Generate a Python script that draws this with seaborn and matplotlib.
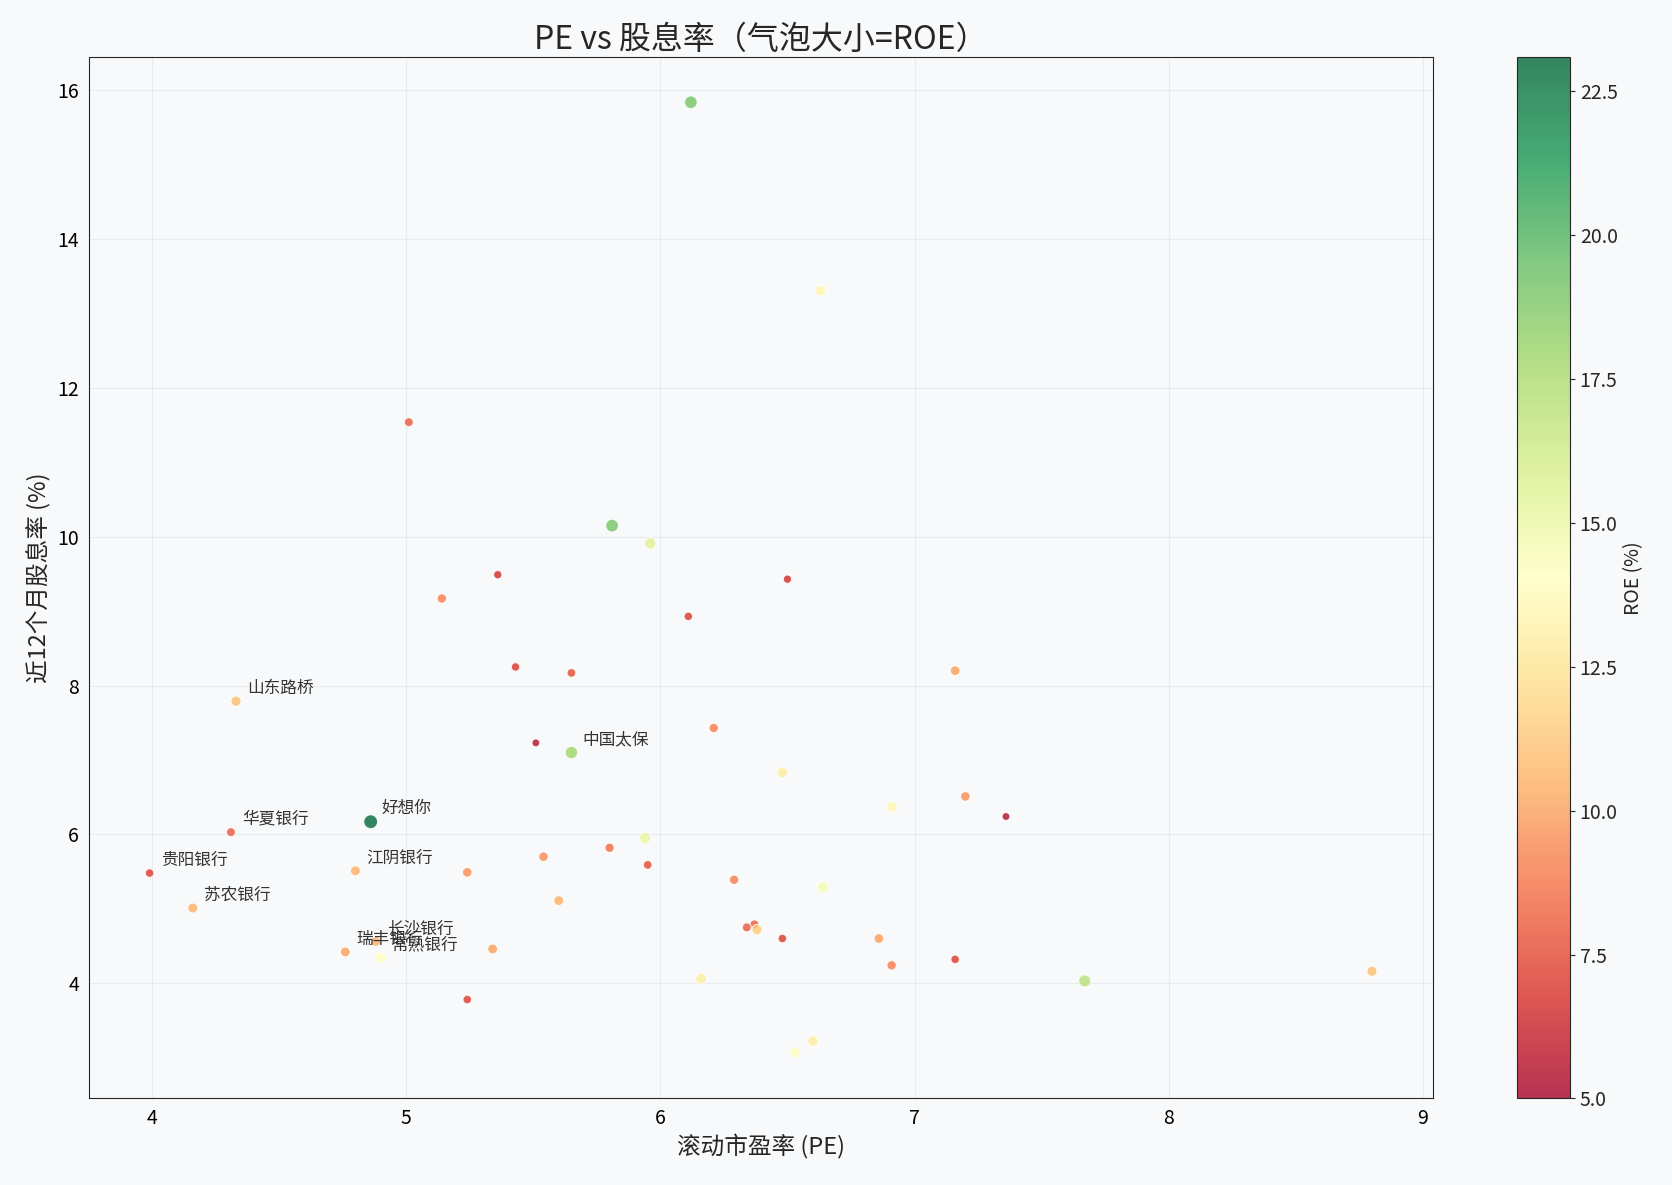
import matplotlib
matplotlib.use("Agg")
import matplotlib.pyplot as plt
import seaborn as sns
import pandas as pd
from matplotlib.colors import Normalize
from matplotlib.cm import ScalarMappable

pe = [6.12,6.63,5.01,5.81,5.96,5.36,6.50,5.14,6.11,5.43,5.65,7.16,4.33,6.21,5.51,5.65,6.48,7.20,6.91,7.36,
      4.86,4.31,5.94,5.80,5.54,5.95,3.99,4.80,5.24,6.29,6.64,5.60,4.16,6.37,6.34,6.38,6.48,6.86,4.88,7.16,
      4.76,4.90,5.34,6.91,8.80,7.67,6.16,5.24,6.60,6.53]
dy = [15.84,13.31,11.54,10.15,9.91,9.49,9.43,9.17,8.93,8.25,8.17,8.20,7.79,7.43,7.23,7.10,6.83,6.51,6.37,6.24,
      6.17,6.03,5.95,5.82,5.70,5.59,5.48,5.51,5.49,5.39,5.29,5.11,5.01,4.79,4.75,4.72,4.60,4.60,4.56,4.32,
      4.42,4.34,4.46,4.24,4.16,4.03,4.06,3.78,3.22,3.07]
roe = [19,13.5,8,19,15.5,6.5,6.5,9,7,7,7.5,10,11,9,5.5,18,13,9.5,13.5,5.5,
       23,8,15,8.5,9.5,7.5,7,10.5,9.5,9,14.5,10.5,10.5,8,8,11.5,7,10,10.5,7,
       10,14,10,9,11,17,13,7,13,14]
names = {12:"山东路桥",15:"中国太保",20:"好想你",21:"华夏银行",26:"贵阳银行",27:"江阴银行",
         32:"苏农银行",38:"长沙银行",40:"瑞丰银行",41:"常熟银行"}

sns.set_style("white")
plt.rcParams['font.family'] = ['Noto Sans CJK SC', 'DejaVu Sans']
plt.rcParams['axes.unicode_minus'] = False

df = pd.DataFrame({"pe": pe, "dy": dy, "roe": roe})
fig = plt.figure(figsize=(16.72, 11.85), dpi=100)
fig.patch.set_facecolor("#f8f9fa")
ax = fig.add_axes([0.053, 0.073, 0.804, 0.879])
cax = fig.add_axes([0.9075, 0.073, 0.0315, 0.879])
ax.set_facecolor("#f8f9fa")
norm = Normalize(5, 23.1)
sns.scatterplot(data=df, x="pe", y="dy", hue="roe", palette="RdYlGn", hue_norm=norm,
                size="roe", sizes=(30, 100), size_norm=(5, 23.1), legend=False,
                edgecolor="white", linewidth=0.8, alpha=0.8, ax=ax)
for i, n in names.items():
    ax.annotate(n, (pe[i], dy[i]), xytext=(8, 6), textcoords="offset points",
                fontsize=12, color="#333333")
ax.set_xlim(3.75, 9.04)
ax.set_ylim(2.45, 16.45)
ax.set_yticks([4, 6, 8, 10, 12, 14, 16])
ax.grid(True, alpha=0.3)
ax.tick_params(labelsize=14, colors="black")
ax.set_xlabel("滚动市盈率 (PE)", fontsize=17)
ax.set_ylabel("近12个月股息率 (%)", fontsize=17)
ax.set_title("PE vs 股息率（气泡大小=ROE）", fontsize=23)
sm = ScalarMappable(norm=norm, cmap="RdYlGn")
cb = fig.colorbar(sm, cax=cax)
cb.solids.set_alpha(0.8)
cb.set_label("ROE (%)", fontsize=14)
cb.ax.tick_params(labelsize=14)
fig.savefig("out.png", dpi=100, facecolor=fig.get_facecolor())
